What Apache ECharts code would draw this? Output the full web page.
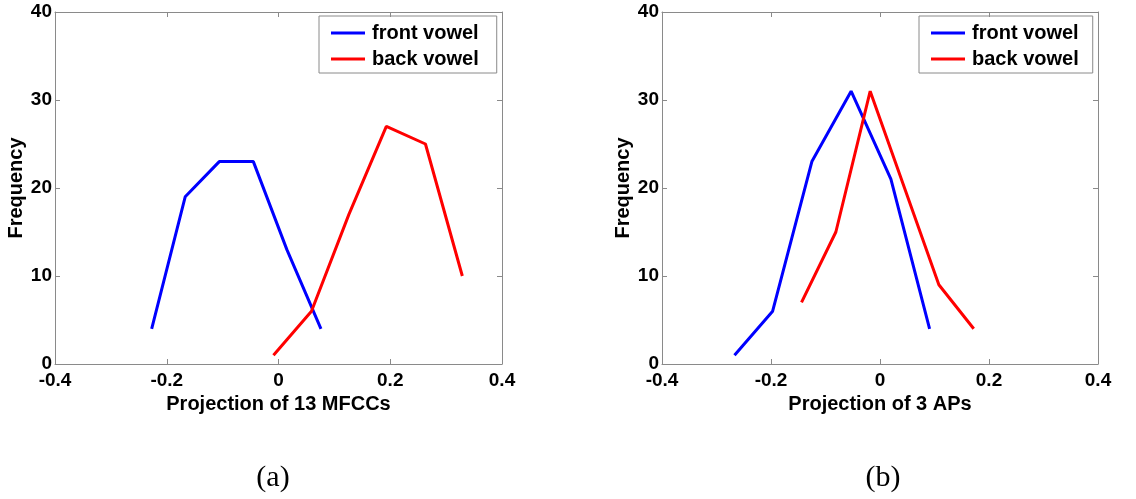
<!DOCTYPE html>
<html>
<head>
<meta charset="utf-8">
<script src="https://cdn.jsdelivr.net/npm/echarts@6/dist/echarts.min.js"></script>
<style>
html,body{margin:0;padding:0;background:#fff;}
#chart{width:1136px;height:499px;}
</style>
</head>
<body>
<div id="chart"></div>
<script>
// Panel (a): projection of 13 MFCCs
const mfccFrontX = [-0.227, -0.167, -0.106, -0.045, 0.015, 0.076];
const mfccFrontY = [4, 19, 23, 23, 13, 4];
const mfccBackX  = [-0.009, 0.059, 0.126, 0.193, 0.263, 0.329];
const mfccBackY  = [1, 6, 17, 27, 25, 10];
// Panel (b): projection of 3 APs
const apFrontX = [-0.267, -0.197, -0.125, -0.053, 0.020, 0.091];
const apFrontY = [1, 6, 23, 31, 21, 4];
const apBackX  = [-0.144, -0.081, -0.018, 0.045, 0.108, 0.172];
const apBackY  = [7, 15, 31, 20, 9, 4];

const seriesNames = ['front vowel', 'back vowel'];
const xTitles = ['Projection of 13 MFCCs', 'Projection of 3 APs'];
const yTitle = 'Frequency';
const captions = ['(a)', '(b)'];

const pairs = (xs, ys) => xs.map((x, i) => [x, ys[i]]);
const FONT = 'Liberation Sans, Arial, Helvetica, sans-serif';
const frameColor = '#8a8a8a';

const grids = [
  {left: 55, top: 12, width: 447, height: 352},
  {left: 662, top: 12, width: 436, height: 352}
];

const lineStyle = {show: true, onZero: false, lineStyle: {color: frameColor, width: 1}};
const tickStyle = {show: true, inside: true, length: 5, lineStyle: {color: frameColor}};

const xAxes = [], yAxes = [];
grids.forEach((g, i) => {
  xAxes.push({
    gridIndex: i, type: 'value', min: -0.4, max: 0.4, interval: 0.2, position: 'bottom',
    name: xTitles[i], nameLocation: 'middle', nameGap: 24,
    nameTextStyle: {fontFamily: FONT, fontWeight: 'bold', fontSize: 20, color: '#000'},
    axisLine: lineStyle, axisTick: tickStyle,
    axisLabel: {fontFamily: FONT, fontWeight: 'bold', fontSize: 19, color: '#000', margin: 7},
    splitLine: {show: false}
  });
  xAxes.push({
    gridIndex: i, type: 'value', min: -0.4, max: 0.4, interval: 0.2, position: 'top',
    axisLine: lineStyle, axisTick: tickStyle,
    axisLabel: {show: false}, splitLine: {show: false}
  });
  yAxes.push({
    gridIndex: i, type: 'value', min: 0, max: 40, interval: 10, position: 'left',
    name: yTitle, nameLocation: 'middle', nameGap: 22, nameRotate: 90,
    nameTextStyle: {fontFamily: FONT, fontWeight: 'bold', fontSize: 20, color: '#000'},
    axisLine: lineStyle, axisTick: tickStyle,
    axisLabel: {fontFamily: FONT, fontWeight: 'bold', fontSize: 19, color: '#000', margin: 3},
    splitLine: {show: false}
  });
  yAxes.push({
    gridIndex: i, type: 'value', min: 0, max: 40, interval: 10, position: 'right',
    axisLine: lineStyle, axisTick: tickStyle,
    axisLabel: {show: false}, splitLine: {show: false}
  });
});

const mkSeries = (name, color, data, gi) => ({
  name, type: 'line', data, xAxisIndex: gi * 2, yAxisIndex: gi * 2,
  symbol: 'none', lineStyle: {color, width: 3}, itemStyle: {color},
  silent: true
});

const series = [
  mkSeries(seriesNames[0], '#0000ff', pairs(mfccFrontX, mfccFrontY), 0),
  mkSeries(seriesNames[1], '#ff0000', pairs(mfccBackX, mfccBackY), 0),
  mkSeries(seriesNames[0], '#0000ff', pairs(apFrontX, apFrontY), 1),
  mkSeries(seriesNames[1], '#ff0000', pairs(apBackX, apBackY), 1)
];

const mkLegend = (left, rightPad) => ({
  left, top: 16, orient: 'vertical', data: seriesNames,
  icon: 'rect', itemWidth: 34, itemHeight: 3, itemGap: 6,
  padding: [7, rightPad, 4, 12], borderColor: frameColor, borderWidth: 1,
  selectedMode: false,
  textStyle: {fontFamily: FONT, fontWeight: 'bold', fontSize: 20, color: '#000', lineHeight: 19, padding: [0, 0, 0, 2]}
});

const chart = echarts.init(document.getElementById('chart'), null, {renderer: 'canvas'});
chart.setOption({
  animation: false,
  backgroundColor: '#fff',
  grid: grids,
  xAxis: xAxes,
  yAxis: yAxes,
  legend: [mkLegend(319, 18), mkLegend(919, 14)],
  title: [
    {text: captions[0], left: 268, top: 458, textAlign: 'center',
     textStyle: {fontFamily: 'Liberation Serif, DejaVu Serif, serif', fontWeight: 'normal', fontSize: 30, color: '#000'}},
    {text: captions[1], left: 878, top: 458, textAlign: 'center',
     textStyle: {fontFamily: 'Liberation Serif, DejaVu Serif, serif', fontWeight: 'normal', fontSize: 30, color: '#000'}}
  ],
  series
});
</script>
</body>
</html>
